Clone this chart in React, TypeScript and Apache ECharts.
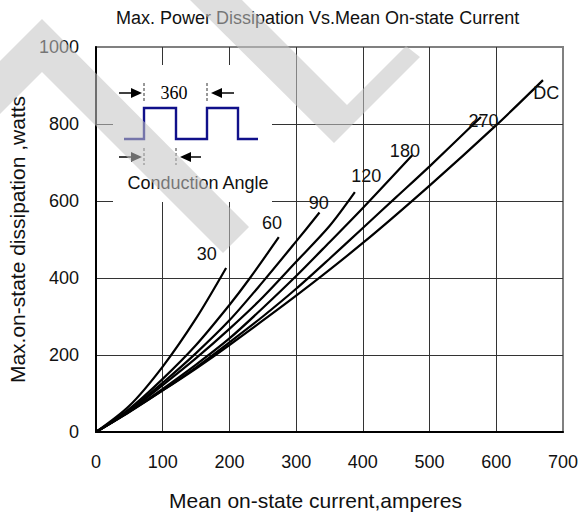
import React, { useEffect, useRef } from "react";
import * as echarts from "echarts";

const FONT = '"Liberation Sans", Arial, sans-serif';

const xTickMax = 700;
const yTickMax = 1000;

const curveNames = ["30", "60", "90", "120", "180", "270", "DC"];
const curve30 = [[0, 0], [50, 68], [100, 170], [150, 295], [195, 426]];
const curve60 = [[0, 0], [50, 60], [100, 138], [150, 226], [200, 330], [230, 398], [274, 506]];
const curve90 = [[0, 0], [50, 57], [100, 128], [150, 205], [200, 290], [250, 390], [300, 495], [335, 570]];
const curve120 = [[0, 0], [50, 55], [100, 122], [150, 192], [200, 268], [250, 350], [300, 442], [350, 535], [388, 623]];
const curve180 = [[0, 0], [50, 53], [100, 112], [150, 175], [200, 243], [250, 322], [300, 405], [350, 493], [400, 582], [474, 719]];
const curve270 = [[0, 0], [50, 52], [100, 108], [150, 168], [200, 233], [250, 300], [300, 372], [350, 450], [400, 530], [450, 610], [500, 690], [577, 818]];
const curveDC = [[0, 0], [50, 53], [100, 108], [150, 165], [200, 226], [300, 354], [400, 491], [500, 640], [600, 797], [670, 914]];
const curves = [curve30, curve60, curve90, curve120, curve180, curve270, curveDC];

// label anchor points (data coordinates) for the curve names
const labelAnchors = [[166, 463], [264, 543], [334, 594], [405, 665], [463, 729], [581, 809], [675, 880]];

export default function App() {
  const ref = useRef<HTMLDivElement>(null);
  useEffect(() => {
    document.body.style.margin = "0";
    const chart = echarts.init(ref.current!, null, { renderer: "svg" });

    const wm = "rgba(196,196,196,0.56)";
    const ink = "#111";
    const navy = "#10108a";

    const option: any = {
      animation: false,
      backgroundColor: "#fff",
      title: {
        text: "Max. Power Dissipation Vs.Mean On-state Current",
        left: 116,
        top: 9,
        padding: 0,
        textStyle: { fontFamily: FONT, fontSize: 18, fontWeight: "normal", color: ink },
      },
      grid: {
        left: 96,
        right: 16,
        top: 47,
        bottom: 84,
        containLabel: false,
        outerBoundsMode: "none",
        show: true,
        borderColor: "#808080",
        borderWidth: 2,
        backgroundColor: "transparent",
      },
      xAxis: {
        type: "value",
        min: 0,
        max: xTickMax,
        interval: 100,
        name: "Mean on-state current,amperes",
        nameLocation: "middle",
        nameGap: 58,
        nameTextStyle: { fontFamily: FONT, fontSize: 21, color: ink, padding: [0, 28, 0, 0] },
        axisLine: { lineStyle: { color: "#000", width: 2 } },
        axisTick: { show: false },
        axisLabel: { fontFamily: FONT, fontSize: 18, color: ink, margin: 21, formatter: (v: number) => String(v) },
        splitLine: { show: true, showMaxLine: false, lineStyle: { color: "#333", width: 1 } },
      },
      yAxis: {
        type: "value",
        min: 0,
        max: yTickMax,
        interval: 200,
        name: "Max.on-state dissipation ,watts",
        nameLocation: "middle",
        nameGap: 66,
        nameRotate: 90,
        nameTextStyle: { fontFamily: FONT, fontSize: 21, color: ink },
        axisLine: { show: true, lineStyle: { color: "#000", width: 2 } },
        axisTick: { show: false },
        axisLabel: { fontFamily: FONT, fontSize: 18, color: ink, margin: 17, formatter: (v: number) => String(v) },
        splitLine: { show: true, showMaxLine: false, lineStyle: { color: "#333", width: 1 } },
      },
      series: [
        ...curves.map((d, i) => ({
          name: curveNames[i],
          type: "line",
          data: d,
          smooth: 0.3,
          symbol: "none",
          lineStyle: { color: "#000", width: 2.2 },
          z: 3,
        })),
        {
          type: "scatter",
          data: labelAnchors.map((p, i) => [p[0], p[1], curveNames[i]]),
          symbolSize: 0,
          silent: true,
          itemStyle: { opacity: 1 },
          label: {
            show: true,
            position: "inside",
            formatter: (p: any) => p.data[2],
            fontFamily: FONT,
            fontSize: 18,
            color: ink,
            opacity: 1,
          },
          z: 4,
        },
      ],
      graphic: [
        // inset white box
        { type: "rect", shape: { x: 113, y: 65, width: 159, height: 137 }, style: { fill: "#fff" }, z: 5 },
        // square wave
        {
          type: "polyline",
          shape: {
            points: [[124, 139], [144, 139], [144, 108], [176, 108], [176, 139], [207, 139], [207, 108], [238, 108], [238, 139], [258, 139]],
          },
          style: { stroke: navy, lineWidth: 2.4, fill: null },
          z: 6,
        },
        // 360 arrows
        { type: "line", shape: { x1: 119, y1: 93, x2: 133, y2: 93 }, style: { stroke: "#000", lineWidth: 1.5 }, z: 6 },
        { type: "polygon", shape: { points: [[131, 88], [131, 98], [142, 93]] }, style: { fill: "#000" }, z: 6 },
        { type: "line", shape: { x1: 144, y1: 83, x2: 144, y2: 101 }, style: { stroke: "#333", lineWidth: 1, lineDash: [3, 2] }, z: 6 },
        { type: "line", shape: { x1: 207, y1: 83, x2: 207, y2: 101 }, style: { stroke: "#333", lineWidth: 1, lineDash: [3, 2] }, z: 6 },
        { type: "polygon", shape: { points: [[211, 93], [222, 88], [222, 98]] }, style: { fill: "#000" }, z: 6 },
        { type: "line", shape: { x1: 220, y1: 93, x2: 234, y2: 93 }, style: { stroke: "#000", lineWidth: 1.5 }, z: 6 },
        {
          type: "text",
          x: 174,
          y: 93,
          style: { text: "360", fontFamily: '"Liberation Serif", "Times New Roman", serif', fontSize: 18, fill: "#000", align: "center", verticalAlign: "middle" },
          z: 6,
        },
        // conduction angle arrows
        { type: "line", shape: { x1: 119, y1: 157, x2: 133, y2: 157 }, style: { stroke: "#000", lineWidth: 1.5 }, z: 6 },
        { type: "polygon", shape: { points: [[131, 152], [131, 162], [142, 157]] }, style: { fill: "#000" }, z: 6 },
        { type: "line", shape: { x1: 144, y1: 148, x2: 144, y2: 165 }, style: { stroke: "#333", lineWidth: 1, lineDash: [3, 2] }, z: 6 },
        { type: "line", shape: { x1: 176, y1: 148, x2: 176, y2: 165 }, style: { stroke: "#333", lineWidth: 1, lineDash: [3, 2] }, z: 6 },
        { type: "polygon", shape: { points: [[180, 157], [191, 152], [191, 162]] }, style: { fill: "#000" }, z: 6 },
        { type: "line", shape: { x1: 189, y1: 157, x2: 201, y2: 157 }, style: { stroke: "#000", lineWidth: 1.5 }, z: 6 },
        {
          type: "text",
          x: 198,
          y: 183,
          style: { text: "Conduction Angle", fontFamily: FONT, fontSize: 18, fill: ink, align: "center", verticalAlign: "middle" },
          z: 6,
        },
        // watermark bands
        {
          type: "polygon",
          shape: { points: [[0, 61], [42, 19], [249, 227], [223, 253], [42, 72], [0, 114]] },
          style: { fill: wm },
          z: 100,
        },
        {
          type: "polygon",
          shape: { points: [[190, 0], [242, 0], [347, 105], [406, 46], [420, 57], [334, 143]] },
          style: { fill: wm },
          z: 100,
        },
      ],
    };
    chart.setOption(option);
    return () => chart.dispose();
  }, []);
  return <div ref={ref} style={{ width: 579, height: 516 }} />;
}
